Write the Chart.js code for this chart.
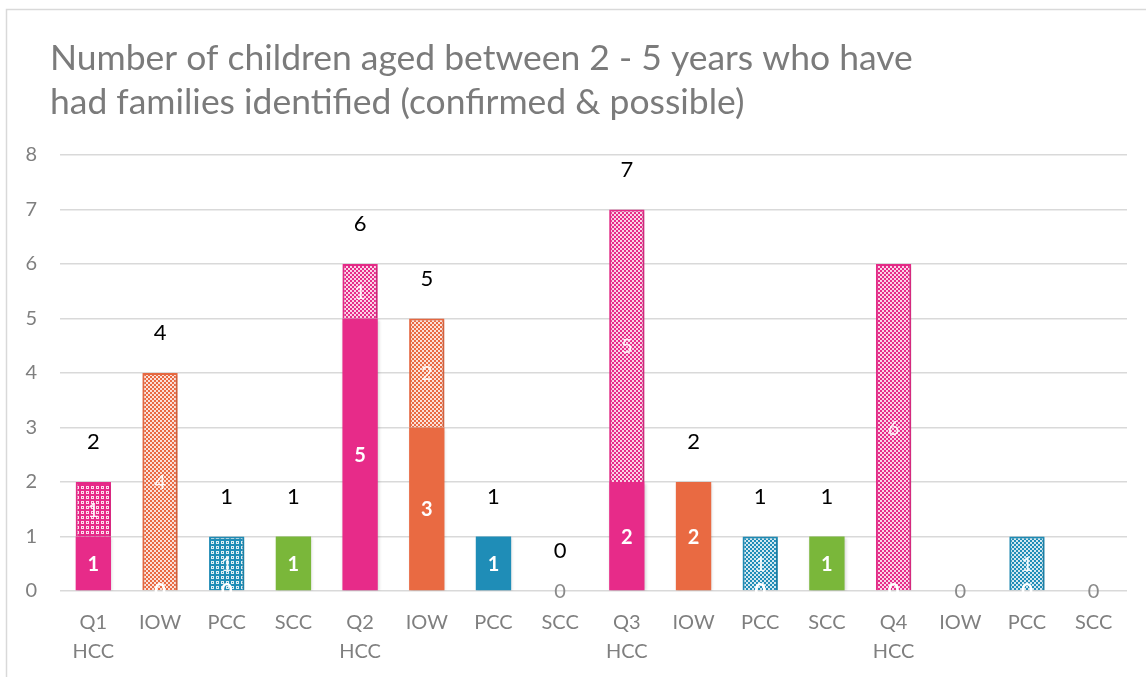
<!DOCTYPE html>
<html>
<head>
<meta charset="utf-8">
<script src="https://cdn.jsdelivr.net/npm/chart.js@4.4.1/dist/chart.umd.min.js"></script>
<style>
  html, body { margin: 0; padding: 0; background: #ffffff; }
  #wrap { width: 1146px; height: 677px; position: relative; }
</style>
</head>
<body>
<div id="wrap"><canvas id="c" width="1146" height="677"></canvas></div>
<script>
// ---- Data ----
const categories = [
  ['Q1', 'HCC'], 'IOW', 'PCC', 'SCC',
  ['Q2', 'HCC'], 'IOW', 'PCC', 'SCC',
  ['Q3', 'HCC'], 'IOW', 'PCC', 'SCC',
  ['Q4', 'HCC'], 'IOW', 'PCC', 'SCC'
];
const areas = ['HCC', 'IOW', 'PCC', 'SCC', 'HCC', 'IOW', 'PCC', 'SCC',
               'HCC', 'IOW', 'PCC', 'SCC', 'HCC', 'IOW', 'PCC', 'SCC'];
const confirmed = [1, 0, 0, 1, 5, 3, 1, 0, 2, 2, 0, 1, 0, 0, 0, 0];
const possible  = [1, 4, 1, 0, 1, 2, 0, 0, 5, 0, 1, 0, 6, 0, 1, 0];
const totals    = [2, 4, 1, 1, 6, 5, 1, 0, 7, 2, 1, 1, 6, 0, 1, 0];
const totalShown = [true, true, true, true, true, true, true, true,
                    true, true, true, true, false, false, false, false];
const yTicks = [0, 1, 2, 3, 4, 5, 6, 7, 8];
const titleLines = [
  'Number of children aged between 2 - 5 years who have',
  'had families identified (confirmed & possible)'
];

// ---- Styles ----
const areaColors = { HCC: '#E72B89', IOW: '#E96A42', PCC: '#1F8DB7', SCC: '#7AB73A' };
const coarsePatternIdx = [0, 2]; // Q1 HCC & Q1 PCC use a coarser pattern
const FONT = 'Lato, "Open Sans", sans-serif';

function makePattern(color, coarse) {
  const t = document.createElement('canvas');
  const g = t.getContext('2d');
  if (coarse) {
    t.width = 5; t.height = 5;
    g.fillStyle = color; g.fillRect(0, 0, 5, 5);
    g.fillStyle = 'rgba(255,255,255,0.85)';
    g.fillRect(1, 1, 3, 3);
    g.fillStyle = color;
    g.fillRect(2, 2, 1, 1);
  } else {
    t.width = 4; t.height = 4;
    g.fillStyle = color; g.fillRect(0, 0, 4, 4);
    g.fillStyle = 'rgba(255,255,255,0.8)';
    g.fillRect(0, 0, 2, 2);
    g.fillRect(2, 2, 2, 2);
  }
  return g.createPattern(t, 'repeat');
}

const solidColors = areas.map(a => areaColors[a]);
const patternFills = areas.map((a, i) => makePattern(areaColors[a], coarsePatternIdx.includes(i)));

const PLOT_LEFT = 60, PLOT_RIGHT = 1127, PLOT_TOP = 155, PLOT_BOTTOM = 591;

const framePlugin = {
  id: 'frameAndTitle',
  beforeDraw(chart) {
    const ctx = chart.ctx;
    ctx.save();
    ctx.fillStyle = '#ffffff';
    ctx.fillRect(0, 0, chart.width, chart.height);
    ctx.strokeStyle = '#d9d9d9';
    ctx.lineWidth = 1.5;
    ctx.beginPath();
    ctx.moveTo(6.5, chart.height);
    ctx.lineTo(6.5, 9.5);
    ctx.lineTo(chart.width, 9.5);
    ctx.stroke();
    // title
    ctx.fillStyle = '#7b7b7b';
    ctx.textAlign = 'left';
    ctx.textBaseline = 'middle';
    let size = 32;
    ctx.font = size + 'px ' + FONT;
    const w = ctx.measureText(titleLines[0]).width;
    size = size * 863 / w;
    ctx.font = size + 'px ' + FONT;
    ctx.fillText(titleLines[0], 50, 59);
    ctx.fillText(titleLines[1], 50, 103);
    ctx.restore();
  },
  beforeDatasetsDraw(chart) {
    const ctx = chart.ctx;
    ctx.save();
    ctx.shadowColor = 'rgba(0,0,0,0.18)';
    ctx.shadowBlur = 3;
    ctx.shadowOffsetX = 1;
    ctx.shadowOffsetY = 1;
  },
  afterDatasetsDraw(chart) {
    chart.ctx.restore();
  }
};

const labelPlugin = {
  id: 'barLabels',
  afterDatasetsDraw(chart) {
    const ctx = chart.ctx;
    const m0 = chart.getDatasetMeta(0).data;
    const m1 = chart.getDatasetMeta(1).data;
    ctx.save();
    ctx.shadowColor = 'transparent';
    ctx.textAlign = 'center';
    ctx.textBaseline = 'middle';
    for (let i = 0; i < categories.length; i++) {
      const b0 = m0[i], b1 = m1[i];
      const x = b0.x;
      const base = b0.base;
      // confirmed labels
      ctx.font = 'bold 20px ' + FONT;
      ctx.fillStyle = '#ffffff';
      if (confirmed[i] > 0) {
        ctx.fillText(String(confirmed[i]), x, (b0.y + b0.base) / 2 + 1);
      } else if (possible[i] > 0) {
        ctx.fillText('0', x, base + 1);
      }
      // possible labels
      ctx.font = '20px ' + FONT;
      if (possible[i] > 0) {
        ctx.fillStyle = 'rgba(255,255,255,0.9)';
        ctx.fillText(String(possible[i]), x, (b1.y + b1.base) / 2 + 1);
      }
      if (confirmed[i] === 0 && possible[i] === 0) {
        ctx.fillStyle = '#8a8a8a';
        ctx.fillText('0', x, base + 1);
      }
      // totals
      if (totalShown[i]) {
        const top = chart.scales.y.getPixelForValue(totals[i]);
        ctx.font = '22px ' + FONT;
        ctx.fillStyle = '#000000';
        ctx.fillText(String(totals[i]), x, top - 40);
      }
    }
    ctx.restore();
  }
};

new Chart(document.getElementById('c'), {
  type: 'bar',
  data: {
    labels: categories,
    datasets: [
      {
        label: 'Confirmed',
        data: confirmed,
        backgroundColor: solidColors,
        borderWidth: 0,
        categoryPercentage: 1,
        barPercentage: 0.53
      },
      {
        label: 'Possible',
        data: possible,
        backgroundColor: patternFills,
        borderColor: solidColors,
        borderWidth: 2,
        categoryPercentage: 1,
        barPercentage: 0.53
      }
    ]
  },
  options: {
    responsive: false,
    animation: false,
    devicePixelRatio: 1,
    layout: { padding: { top: PLOT_TOP, right: 1146 - PLOT_RIGHT, left: 0, bottom: 0 } },
    plugins: {
      legend: { display: false },
      title: { display: false },
      tooltip: { enabled: false }
    },
    scales: {
      x: {
        stacked: true,
        grid: { display: false, drawTicks: false },
        border: { display: false },
        ticks: {
          color: '#7f7f7f',
          font: { family: FONT, size: 20, lineHeight: 1.45 },
          padding: 17,
          maxRotation: 0,
          autoSkip: false
        },
        afterFit(scale) { scale.height = 677 - PLOT_BOTTOM; }
      },
      y: {
        stacked: true,
        min: 0,
        max: 8,
        afterBuildTicks(scale) { scale.ticks = yTicks.map(v => ({ value: v })); },
        grid: { color: '#d9d9d9', lineWidth: 1.5, drawTicks: false },
        border: { display: false },
        ticks: {
          color: '#7f7f7f',
          font: { family: FONT, size: 20 },
          padding: 23
        },
        afterFit(scale) { scale.width = PLOT_LEFT; }
      }
    }
  },
  plugins: [framePlugin, labelPlugin]
});
</script>
</body>
</html>
